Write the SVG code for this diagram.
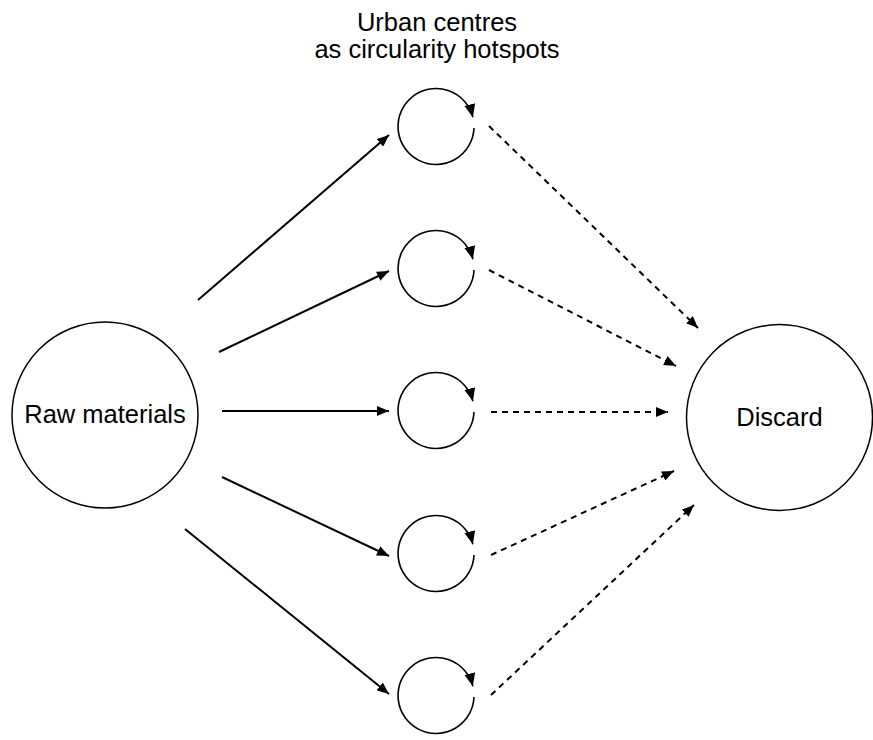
<svg xmlns="http://www.w3.org/2000/svg" width="873" height="740" viewBox="0 0 873 740">
<style>
text{font-family:"Liberation Sans",Arial,sans-serif;font-size:25.5px;fill:#000;text-anchor:middle}
.big{fill:#fff;stroke:#000;stroke-width:1.5}
.loop{fill:none;stroke:#000;stroke-width:1.6}
.solid{stroke:#000;stroke-width:2;fill:none}
.dash{stroke:#000;stroke-width:2;fill:none;stroke-dasharray:6 5}
</style>
<defs>
<marker id="ah" markerUnits="userSpaceOnUse" markerWidth="14" markerHeight="10" refX="12" refY="5" orient="auto"><path d="M0,0 L12,5 L0,10 z" fill="#000"/></marker>
<marker id="lh" markerUnits="userSpaceOnUse" markerWidth="14" markerHeight="12" refX="13" refY="5.5" orient="auto"><path d="M0,0 L13,5.5 L0,11 z" fill="#000"/></marker>
</defs>
<rect width="873" height="740" fill="#fff"/>
<text x="437" y="31">Urban centres</text>
<text x="437" y="58">as circularity hotspots</text>
<g id="raw"><circle class="big" cx="105" cy="415" r="93"/><text x="105" y="423">Raw materials</text></g>
<g id="discard"><circle class="big" cx="779.5" cy="417.5" r="93"/><text x="779.5" y="426">Discard</text></g>
<g id="hub1"><path class="loop" d="M474,128 A38,38 0 1 1 472.9,117.3" marker-end="url(#lh)"/></g>
<g id="hub2"><path class="loop" d="M474,270 A38,38 0 1 1 472.9,259.3" marker-end="url(#lh)"/></g>
<g id="hub3"><path class="loop" d="M474,412 A38,38 0 1 1 472.9,401.3" marker-end="url(#lh)"/></g>
<g id="hub4"><path class="loop" d="M474,555 A38,38 0 1 1 472.9,544.3" marker-end="url(#lh)"/></g>
<g id="hub5"><path class="loop" d="M474,697 A38,38 0 1 1 472.9,686.3" marker-end="url(#lh)"/></g>
<g id="connectors">
<line class="solid" x1="198" y1="300" x2="389" y2="135" marker-end="url(#ah)"/>
<line class="solid" x1="219" y1="352" x2="389" y2="271" marker-end="url(#ah)"/>
<line class="solid" x1="222" y1="411" x2="389" y2="411" marker-end="url(#ah)"/>
<line class="solid" x1="222" y1="477" x2="389" y2="556" marker-end="url(#ah)"/>
<line class="solid" x1="185" y1="529" x2="389" y2="694" marker-end="url(#ah)"/>
<line class="dash" x1="489" y1="126" x2="698" y2="328" marker-end="url(#ah)"/>
<line class="dash" x1="489" y1="270" x2="676" y2="366" marker-end="url(#ah)"/>
<line class="dash" x1="491" y1="412" x2="668" y2="412" marker-end="url(#ah)"/>
<line class="dash" x1="491" y1="555" x2="674" y2="471" marker-end="url(#ah)"/>
<line class="dash" x1="491" y1="695" x2="694" y2="505" marker-end="url(#ah)"/>
</g>
</svg>
